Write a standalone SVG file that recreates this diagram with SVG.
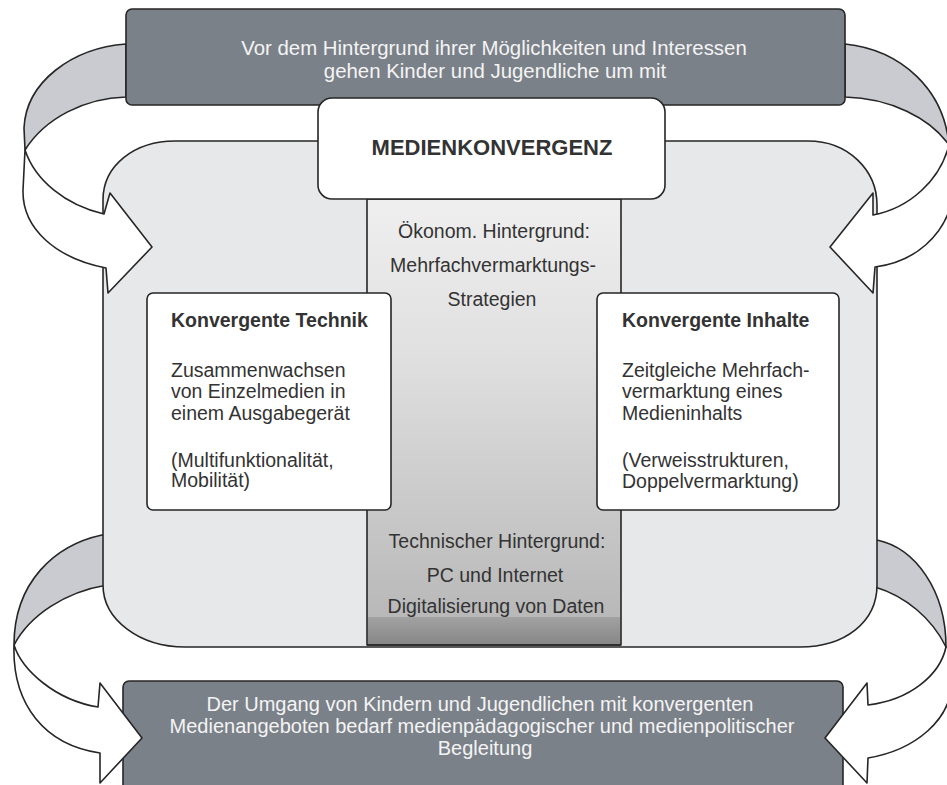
<svg xmlns="http://www.w3.org/2000/svg" width="947" height="785" viewBox="0 0 947 785">
<style>
  .ln{stroke:#262626;stroke-width:1.6;stroke-linejoin:round}
  .dark{fill:#7b8189}
  .band{fill:#c9cbd0}
  .white{fill:#ffffff}
  .txt{font-family:"Liberation Sans",Arial,sans-serif;font-size:19.5px;fill:#333333}
  .wtxt{font-family:"Liberation Sans",Arial,sans-serif;font-size:20px;fill:#f4f4f4}
  .bold{font-weight:bold}
</style>
<defs>
  <linearGradient id="colGrad" x1="0" y1="0" x2="0" y2="1">
    <stop offset="0" stop-color="#efefef"/>
    <stop offset="0.35" stop-color="#e0e0e0"/>
    <stop offset="1" stop-color="#b4b4b4"/>
  </linearGradient>
  <linearGradient id="footGrad" x1="0" y1="0" x2="0" y2="1">
    <stop offset="0" stop-color="#a2a2a2"/>
    <stop offset="1" stop-color="#878787"/>
  </linearGradient>
</defs>
<rect width="947" height="785" fill="#ffffff"/>

<!-- back bands of curved arrows -->
<g id="connectors-back">
  <path class="band ln" d="M126,44 C72,48 26,82 24,128 L25,150 C45,118 85,98 126,97 Z"/>
  <path class="band ln" d="M845,44 C902,50 944,90 949,145 C930,118 890,98 845,97 Z"/>
  <path class="band ln" d="M112,535 L102,535 C55,545 14,582 14,645 C30,615 65,592 107,585 L112,585 Z"/>
  <path class="band ln" d="M870,540 L877,540 C915,548 946,590 946,647 C932,618 905,596 875,587 L870,587 Z"/>
</g>

<g id="panel">
  <path fill="#e7e8ea" class="ln" d="M175,141 L808,141 C848,141 877,170 877,205 L877,585 C877,622 845,647 800,647 L185,647 C140,647 103,620 103,585 L103,200 C103,165 135,141 175,141 Z"/>
</g>

<g id="center-column">
  <rect x="367" y="199" width="254" height="446" fill="url(#colGrad)" class="ln"/>
  <rect x="368" y="617" width="252" height="27" fill="url(#footGrad)"/>
  <line x1="367" y1="645" x2="621" y2="645" class="ln"/>
  <text class="txt" x="494" y="238" text-anchor="middle">Ökonom. Hintergrund:</text>
  <text class="txt" x="493" y="272" text-anchor="middle">Mehrfachvermarktungs-</text>
  <text class="txt" x="492" y="306" text-anchor="middle">Strategien</text>
  <text class="txt" x="497" y="548" text-anchor="middle">Technischer Hintergrund:</text>
  <text class="txt" x="495" y="582" text-anchor="middle">PC und Internet</text>
  <text class="txt" x="496" y="613" text-anchor="middle">Digitalisierung von Daten</text>
</g>

<g id="top-box">
  <rect x="126" y="9" width="719" height="96" rx="6" class="dark ln"/>
  <text class="wtxt" x="494" y="55" text-anchor="middle" style="font-size:20.4px">Vor dem Hintergrund ihrer Möglichkeiten und Interessen</text>
  <text class="wtxt" x="495" y="78" text-anchor="middle" style="font-size:20.4px">gehen Kinder und Jugendliche um mit</text>
</g>

<g id="medienkonvergenz">
  <rect x="318" y="98" width="347" height="101" rx="14" class="white ln"/>
  <text class="txt bold" x="492" y="155" text-anchor="middle" style="font-size:22px">MEDIENKONVERGENZ</text>
</g>

<g id="konvergente-technik">
  <rect x="147" y="293" width="244" height="217" rx="6" class="white ln"/>
  <text class="txt bold" x="171" y="327">Konvergente Technik</text>
  <text class="txt" x="171" y="377">Zusammenwachsen</text>
  <text class="txt" x="171" y="398">von Einzelmedien in</text>
  <text class="txt" x="171" y="420">einem Ausgabegerät</text>
  <text class="txt" x="171" y="467">(Multifunktionalität,</text>
  <text class="txt" x="171" y="487">Mobilität)</text>
</g>

<g id="konvergente-inhalte">
  <rect x="597" y="293" width="242" height="217" rx="6" class="white ln"/>
  <text class="txt bold" x="622" y="327">Konvergente Inhalte</text>
  <text class="txt" x="622" y="377">Zeitgleiche Mehrfach-</text>
  <text class="txt" x="622" y="398">vermarktung eines</text>
  <text class="txt" x="622" y="420">Medieninhalts</text>
  <text class="txt" x="622" y="467">(Verweisstrukturen,</text>
  <text class="txt" x="622" y="488">Doppelvermarktung)</text>
</g>

<g id="bottom-box">
  <rect x="123" y="681" width="720" height="130" rx="6" class="dark ln"/>
  <text class="wtxt" x="480" y="711" text-anchor="middle">Der Umgang von Kindern und Jugendlichen mit konvergenten</text>
  <text class="wtxt" x="482" y="733" text-anchor="middle">Medienangeboten bedarf medienpädagogischer und medienpolitischer</text>
  <text class="wtxt" x="485" y="755" text-anchor="middle">Begleitung</text>
</g>

<!-- front bands with arrowheads -->
<g id="connectors">
  <path class="white ln" d="M25,150 C35,180 65,205 104,214 L110,193 L152,247 L108,293 L106,268 C55,258 22,228 23,190 Z"/>
  <path class="white ln" d="M949,145 C940,180 910,208 873,215 L873,193 L830,247 L873,293 L875,267 C915,262 945,235 952,200 L952,145 Z"/>
  <path class="white ln" d="M14,645 C22,670 55,700 98,707 L100,683 L142,738 L100,783 L100,753 C45,745 12,705 14,645 Z"/>
  <path class="white ln" d="M946,647 C940,675 910,700 868,705 L867,683 L825,738 L867,783 L868,758 C915,750 952,720 952,680 L952,647 Z"/>
</g>
</svg>
